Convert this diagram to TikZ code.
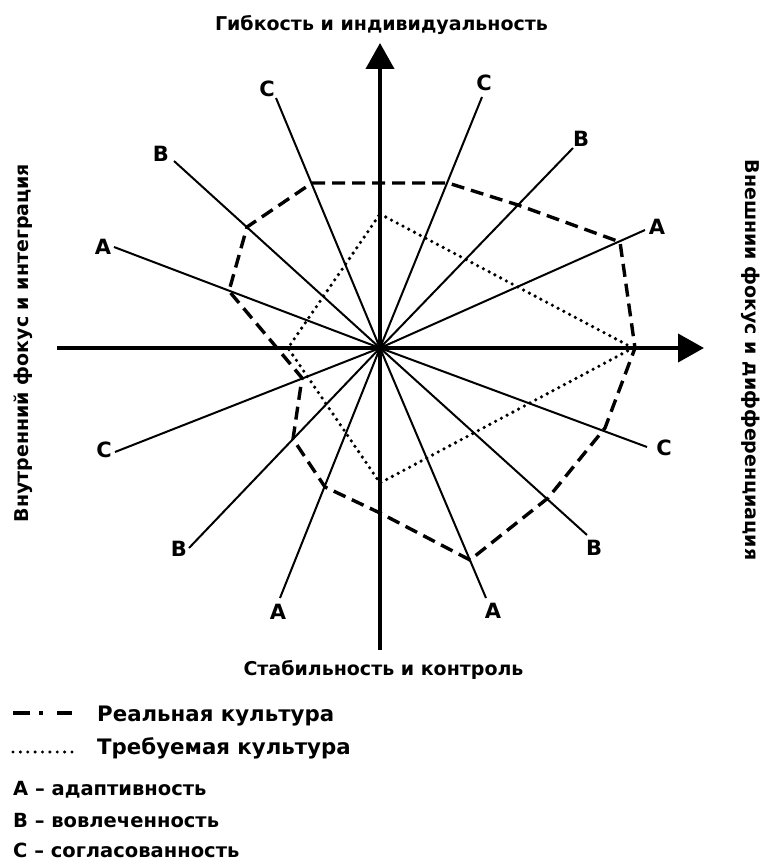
\documentclass[tikz,border=0pt]{standalone}
\usepackage{fontspec}
\setmainfont{DejaVu Sans}
\usetikzlibrary{arrows.meta}
\begin{document}
\begin{tikzpicture}[x=1pt,y=-1pt,
  axis/.style={line width=4pt,-{Triangle[length=26pt,width=28pt]}},
  spoke/.style={line width=2pt},
  real/.style={line width=3.4pt,dash pattern=on 13pt off 7pt,line join=miter},
  req/.style={line width=3.6pt,dash pattern=on 0pt off 6.5pt,line cap=round},
  spokelbl/.style={font=\bfseries\fontsize{21}{21}\selectfont,inner sep=0pt},
  axlbl/.style={font=\bfseries\fontsize{19}{19}\selectfont,inner sep=0pt},
  legbig/.style={font=\bfseries\fontsize{21.3}{21.3}\selectfont,inner sep=0pt,anchor=base west},
  legsm/.style={font=\bfseries\fontsize{19.5}{19.5}\selectfont,inner sep=0pt,anchor=base west},
  legline/.style={line width=3.8pt},
  legdots/.style={line width=3.4pt,dash pattern=on 0pt off 7.375pt,line cap=round}
]
\useasboundingbox (0,0) rectangle (761,864);
\fill[white] (0,0) rectangle (761,864);

\coordinate (O) at (380,348);

% spokes
\foreach \n/\ex/\ey/\lx/\ly/\t in {
  1/276/98/267/89/C, 2/174/161/161/154/B, 3/114/247/103/247/A,
  4/482/97/484/83/C, 5/573/148/581/139/B, 6/645/230/657/227/A,
  7/647/447/664/448/C, 8/587/535/594/548/B, 9/486/598/493/611/A,
  10/280/598/278/612/A, 11/189/548/179/549/B, 12/115/452/104/450/C}{
  \coordinate (e\n) at (\ex,\ey);
  \node[spokelbl] (l\n) at (\lx,\ly) {\t};
  \draw[spoke] (O) -- (e\n);
}

% real culture (dashed)
\coordinate (r1) at (312,183);
\coordinate (r2) at (448,183);
\coordinate (r3) at (518,205);
\coordinate (r4) at (620,242);
\coordinate (r5) at (635,348);
\coordinate (r6) at (605,428);
\coordinate (r7) at (548,498);
\coordinate (r8) at (470,560);
\coordinate (r9) at (380,513);
\coordinate (r10) at (325,487);
\coordinate (r11) at (293,439);
\coordinate (r12) at (302,378);
\coordinate (r13) at (277,348);
\coordinate (r14) at (229,291);
\coordinate (r15) at (247,227);
\draw[real] (r1) -- (r2) -- (r3) -- (r4) -- (r5) -- (r6) -- (r7) -- (r8)
  -- (r9) -- (r10) -- (r11) -- (r12) -- (r13) -- (r14) -- (r15) -- cycle;

% required culture (dotted)
\coordinate (q1) at (380,214);
\coordinate (q2) at (633,348);
\coordinate (q3) at (380,483);
\coordinate (q4) at (288,348);
\draw[req] (q1) -- (q2) -- (q3) -- (q4) -- cycle;

% axes
\coordinate (xl) at (57,348);
\coordinate (xr) at (704,348);
\coordinate (yb) at (380,650);
\coordinate (yt) at (380,43);
\draw[axis] (xl) -- (xr);
\draw[axis] (yb) -- (yt);

% axis labels
\node[axlbl,anchor=base] (ttop) at (381.5,31) {Гибкость и индивидуальность};
\node[axlbl,anchor=base] (tbot) at (383.5,675) {Стабильность и контроль};
\node[axlbl,anchor=base,rotate=90] (tleft) at (28,343) {Внутренний фокус и интеграция};
\node[axlbl,anchor=base,rotate=-90] (tright) at (745,360) {Внешнии фокус и дифференциация};

% legend
\coordinate (d1a) at (13,713); \coordinate (d1b) at (30,713);
\coordinate (d2a) at (39,713); \coordinate (d2b) at (43,713);
\coordinate (d3a) at (57,713); \coordinate (d3b) at (72,713);
\draw[legline] (d1a) -- (d1b);
\draw[legline] (d2a) -- (d2b);
\draw[legline] (d3a) -- (d3b);
\node[legbig] (lreal) at (97,721) {Реальная культура};
\coordinate (p1) at (13,752); \coordinate (p2) at (72.5,752);
\draw[legdots] (p1) -- (p2);
\node[legbig] (lreq) at (97,754) {Требуемая культура};
\node[legsm] (la) at (13,795) {А – адаптивность};
\node[legsm] (lb) at (13,827) {В – вовлеченность};
\node[legsm] (lc) at (13,857) {С – согласованность};
\end{tikzpicture}
\end{document}
